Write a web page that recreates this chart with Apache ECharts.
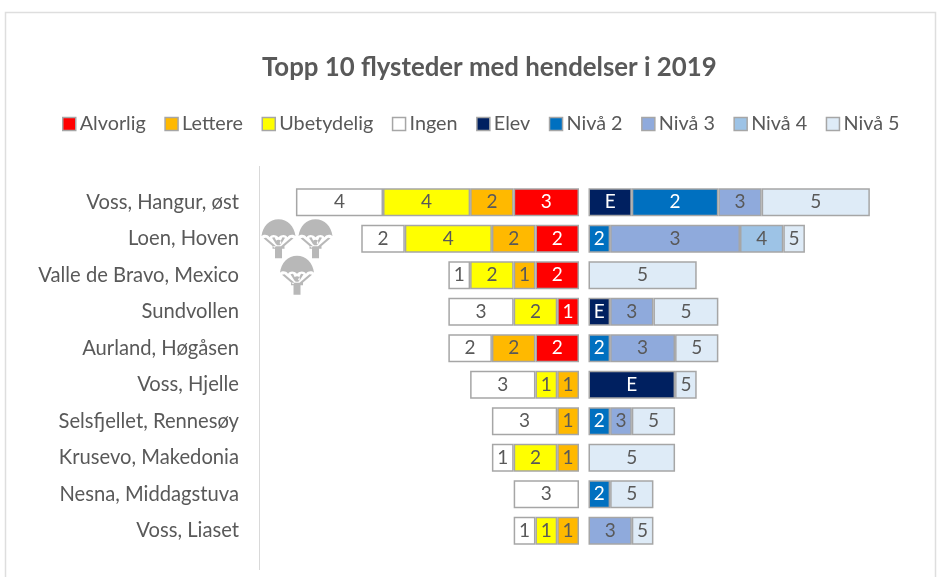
<!DOCTYPE html>
<html><head><meta charset="utf-8">
<style>html,body{margin:0;padding:0;background:#fff}#c{width:941px;height:577px}</style>
<script src="https://cdn.jsdelivr.net/npm/echarts@6/dist/echarts.min.js"></script>
</head><body><div id="c"></div>
<script>
const categories = ['Voss, Hangur, øst','Loen, Hoven','Valle de Bravo, Mexico','Sundvollen','Aurland, Høgåsen','Voss, Hjelle','Selsfjellet, Rennesøy','Krusevo, Makedonia','Nesna, Middagstuva','Voss, Liaset'];
const alvorlig   = [3,2,2,1,2,null,null,null,null,null];
const lettere    = [2,2,1,null,2,1,1,1,null,1];
const ubetydelig = [4,4,2,2,null,1,null,2,null,1];
const ingen      = [4,2,1,3,2,3,3,1,3,1];
const elev   = [2,null,null,1,null,4,null,null,null,null];
const nivaa2 = [4,1,null,null,1,null,1,null,1,null];
const nivaa3 = [2,6,null,2,3,null,1,null,null,2];
const nivaa4 = [null,2,null,null,null,null,null,null,null,null];
const nivaa5 = [5,1,5,3,2,1,2,4,2,1];
const parachutes = [[13.8,1.07],[12.1,1.07],[12.95,2.07]];
const FONT = 'Lato, sans-serif';
const GREY = '#595959', EDGE = '#a6a6a6';
const chute = 'path://M17 0C8 0 1 7 0 17C2 15 6 15 8 18C10 15 14 15 17 18C20 15 24 15 26 18C28 15 32 15 34 17C33 7 26 0 17 0Z M2 19L13 28.5L14.5 27L4.5 18.5Z M10.5 18.5L14.5 25L16 24L13 18Z M32 19L21 28.5L19.5 27L29.5 18.5Z M23.5 18.5L19.5 25L18 24L21 18Z M17 20.5A2.8 2.8 0 1 0 17 26.1A2.8 2.8 0 1 0 17 20.5Z M11 27H23V29.5H20.5V39H13.5V29.5H11Z';
function leftS(name,data,color,txt){return {name,type:'bar',stack:'l',xAxisIndex:0,yAxisIndex:0,barWidth:28,data,
  itemStyle:{color,borderColor:EDGE,borderWidth:1.5},
  label:{show:true,position:'inside',color:txt,fontFamily:FONT,fontSize:19,formatter:p=>p.value}};}
function rightS(name,mark,data,color,txt){return {name,type:'bar',stack:'r',xAxisIndex:1,yAxisIndex:1,barWidth:28,data,
  itemStyle:{color,borderColor:EDGE,borderWidth:1.5},
  label:{show:true,position:'inside',color:txt,fontFamily:FONT,fontSize:19,formatter:()=>mark}};}
const chart = echarts.init(document.getElementById('c'),null,{renderer:'canvas'});
chart.setOption({
  animation:false,backgroundColor:'#fff',
  title:{text:'Topp 10 flysteder med hendelser i 2019',left:262,top:55,padding:0,
    textStyle:{color:GREY,fontFamily:FONT,fontSize:25.8,fontWeight:'bold'}},
  legend:{top:114,left:62,padding:0,itemWidth:13,itemHeight:13,itemGap:18.5,icon:'rect',
    textStyle:{color:GREY,fontFamily:FONT,fontSize:19.8,padding:[0,0,0,-1]},
    data:['Alvorlig','Lettere','Ubetydelig','Ingen','Elev','Nivå 2','Nivå 3','Nivå 4','Nivå 5'],
    itemStyle:{borderColor:EDGE,borderWidth:1.5}},
  grid:[{left:260,top:184,width:319,height:365},{left:588.5,top:184,width:303,height:365}],
  xAxis:[{type:'value',gridIndex:0,inverse:true,min:0,max:14.65,show:false},
         {type:'value',gridIndex:1,min:0,max:14,show:false}],
  yAxis:[{type:'category',gridIndex:0,inverse:true,data:categories,axisLine:{show:false},axisTick:{show:false},
          axisLabel:{color:GREY,fontFamily:FONT,fontSize:20.2,margin:21}},
         {type:'category',gridIndex:1,inverse:true,data:categories,show:false}],
  series:[
    leftS('Alvorlig',alvorlig,'#ff0000','#ffffff'),
    leftS('Lettere',lettere,'#ffb900',GREY),
    leftS('Ubetydelig',ubetydelig,'#ffff00',GREY),
    leftS('Ingen',ingen,'#ffffff',GREY),
    rightS('Elev','E',elev,'#002060','#ffffff'),
    rightS('Nivå 2','2',nivaa2,'#0070c0','#ffffff'),
    rightS('Nivå 3','3',nivaa3,'#8faadc',GREY),
    rightS('Nivå 4','4',nivaa4,'#9dc3e6',GREY),
    rightS('Nivå 5','5',nivaa5,'#deebf7',GREY),
    {type:'scatter',xAxisIndex:0,yAxisIndex:0,data:parachutes,symbol:chute,symbolSize:[34,39],silent:true,
      itemStyle:{color:'#a6a6a6'}}
  ],
  graphic:[
    {type:'rect',silent:true,z:-1,shape:{x:5.5,y:12.5,width:930,height:600},style:{fill:'none',stroke:'#dedede',lineWidth:1.5}},
    {type:'line',silent:true,shape:{x1:259.5,y1:166,x2:259.5,y2:570},style:{stroke:'#d9d9d9',lineWidth:1}}
  ]
});
</script></body></html>
